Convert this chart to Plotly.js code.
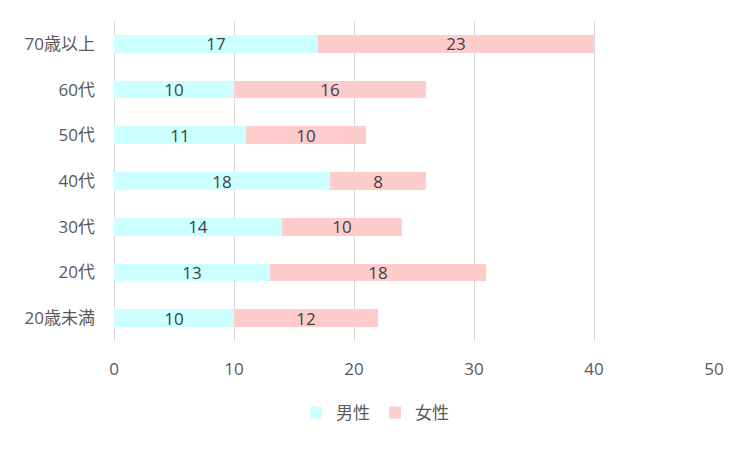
<!DOCTYPE html>
<html><head><meta charset="utf-8">
<script src="https://cdn.plot.ly/plotly-3.0.1.min.js"></script>
<style>html,body{margin:0;padding:0;background:#fff}#chart{width:749px;height:449px}</style>
</head><body><div id="chart"></div>
<script>
const categories = ["70歳以上","60代","50代","40代","30代","20代","20歳未満"];
const male = [17,10,11,18,14,13,10];
const female = [23,16,10,8,10,18,12];
const seriesNames = ["男性","女性"];
const tickVals = [0,10,20,30,40,50];

const font = '"Open Sans", "Noto Sans CJK JP", sans-serif';
function mk(vals, name, color){
  return {type:'bar', orientation:'h', y:categories, x:vals, name:name,
    marker:{color:color}, text:vals.map(String), textposition:'inside', textangle:0,
    insidetextanchor:'middle', constraintext:'none',
    textfont:{family:font, size:17, color:'#404040'}, hoverinfo:'x+y'};
}
const data = [mk(male, seriesNames[0], '#CCFFFF'), mk(female, seriesNames[1], '#FFCCCC')];
const layout = {
  width:749, height:449, barmode:'stack', bargap:0.61,
  margin:{l:114, r:35, t:21, b:108},
  paper_bgcolor:'#fff', plot_bgcolor:'#fff',
  font:{family:font, size:17, color:'#595959'},
  xaxis:{range:[0,50], tickvals:tickVals, showgrid:true, gridcolor:'#d9d9d9', gridwidth:1,
    zeroline:true, zerolinecolor:'#d9d9d9', zerolinewidth:1, showline:false, ticks:'', ticklabelstandoff:16,
    tickfont:{size:17, color:'#595959'}, fixedrange:true},
  yaxis:{autorange:'reversed', showgrid:false, ticks:'', ticklabelstandoff:18,
    tickfont:{size:17, color:'#595959'}},
  showlegend:true,
  legend:{orientation:'h', x:0.435, xanchor:'center', y:-0.225, yanchor:'middle',
    font:{size:17, color:'#595959'}, traceorder:'normal', itemwidth:30},
};
Plotly.newPlot('chart', data, layout, {displayModeBar:false, staticPlot:true});
</script></body></html>
